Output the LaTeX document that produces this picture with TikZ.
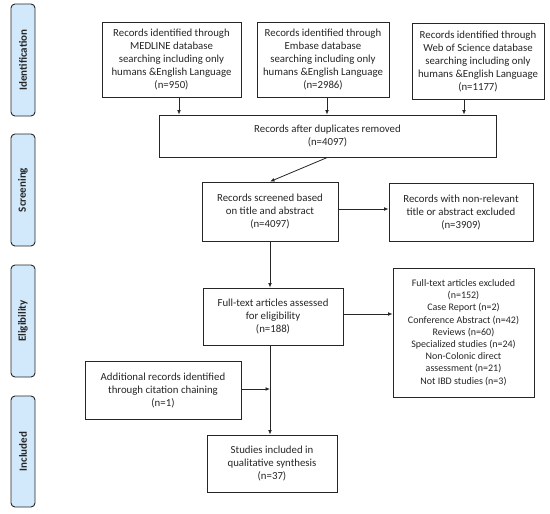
\documentclass[tikz,border=0pt]{standalone}
\usepackage{fontspec}
\setmainfont{Carlito}
\usetikzlibrary{arrows.meta}
\definecolor{barfill}{HTML}{D2E9FB}
\definecolor{linec}{HTML}{262626}
\tikzset{
  box/.style={draw=linec, line width=0.8pt, rectangle, align=center, inner sep=1pt,
    font=\fontsize{10.8}{13}\selectfont, text=linec},
  smallbox/.style={box, font=\fontsize{10}{12.2}\selectfont},
  phase/.style={draw=linec, line width=0.9pt, fill=barfill, rounded corners=4pt,
    rotate=90, font=\fontsize{11}{12}\selectfont\bfseries, text=linec},
  arr/.style={draw=linec, line width=0.8pt, -{Latex[length=4.5pt,width=3.8pt]}}
}
\begin{document}
\begin{tikzpicture}[x=1pt,y=-1pt]
\useasboundingbox (0,0) rectangle (550,514);
\fill[white] (0,0) rectangle (550,514);
% phase bars (rotated: minimum height = bar width, minimum width = bar length)
\node[phase, minimum width=112pt, minimum height=24pt] (p1) at (23,60) {Identification};
\node[phase, minimum width=112pt, minimum height=24pt] (p2) at (23,190) {Screening};
\node[phase, minimum width=112pt, minimum height=24pt] (p3) at (23,321) {Eligibility};
\node[phase, minimum width=111pt, minimum height=24pt] (p4) at (23,451.5) {Included};
% boxes
\node[box, minimum width=139pt, minimum height=75pt] (med) at (171.5,59.5)
  {Records identified through\\MEDLINE database\\searching including only\\humans \&English Language\\(n=950)};
\node[box, minimum width=132pt, minimum height=75pt] (emb) at (323,59.5)
  {Records identified through\\Embase database\\searching including only\\humans \&English Language\\(n=2986)};
\node[box, minimum width=132pt, minimum height=76pt] (wos) at (478,61)
  {Records identified through\\Web of Science database\\searching including only\\humans \&English Language\\(n=1177)};
\node[box, minimum width=337pt, minimum height=42pt] (dup) at (327.5,136)
  {Records after duplicates removed\\(n=4097)};
\node[box, minimum width=136pt, minimum height=59pt] (scr) at (270,211.5)
  {Records screened based\\on title and abstract\\(n=4097)};
\node[box, minimum width=144pt, minimum height=58pt] (exa) at (461,212)
  {Records with non-relevant\\title or abstract excluded\\(n=3909)};
\node[box, minimum width=140pt, minimum height=57pt] (elig) at (273,316.5)
  {Full-text articles assessed\\for eligibility\\(n=188)};
\node[smallbox, minimum width=141pt, minimum height=129pt] (exb) at (463.5,332.5)
  {Full-text articles excluded\\(n=152)\\Case Report (n=2)\\Conference Abstract (n=42)\\Reviews (n=60)\\Specialized studies (n=24)\\Non-Colonic direct\\assessment (n=21)\\Not IBD studies (n=3)};
\node[box, minimum width=156pt, minimum height=58pt] (add) at (163,390)
  {Additional records identified\\through citation chaining\\(n=1)};
\node[box, minimum width=130pt, minimum height=57pt] (stud) at (272,463.5)
  {Studies included in\\qualitative synthesis\\(n=37)};
% connectors
\draw[arr] ([xshift=7.5pt]med.south) -- ([xshift=7.5pt]med.south |- dup.north);
\draw[arr] ([xshift=4pt]emb.south) -- ([xshift=4pt]emb.south |- dup.north);
\draw[arr] ([xshift=-14pt]wos.south) -- ([xshift=-14pt]wos.south |- dup.north);
\draw[arr] (dup.south) -- (scr.north);
\draw[arr] ([yshift=2.5pt]scr.east) -- ([yshift=2.5pt]scr.east -| exa.west);
\draw[arr] (scr.south) -- (scr.south |- elig.north);
\draw[arr] ([yshift=2.5pt]elig.east) -- ([yshift=2.5pt]elig.east -| exb.west);
\draw[arr] (elig.south -| scr.south) -- (stud.north -| scr.south);
\draw[arr] ([yshift=1pt]add.east) -- ([yshift=1pt]add.east -| scr.south);
\end{tikzpicture}
\end{document}
